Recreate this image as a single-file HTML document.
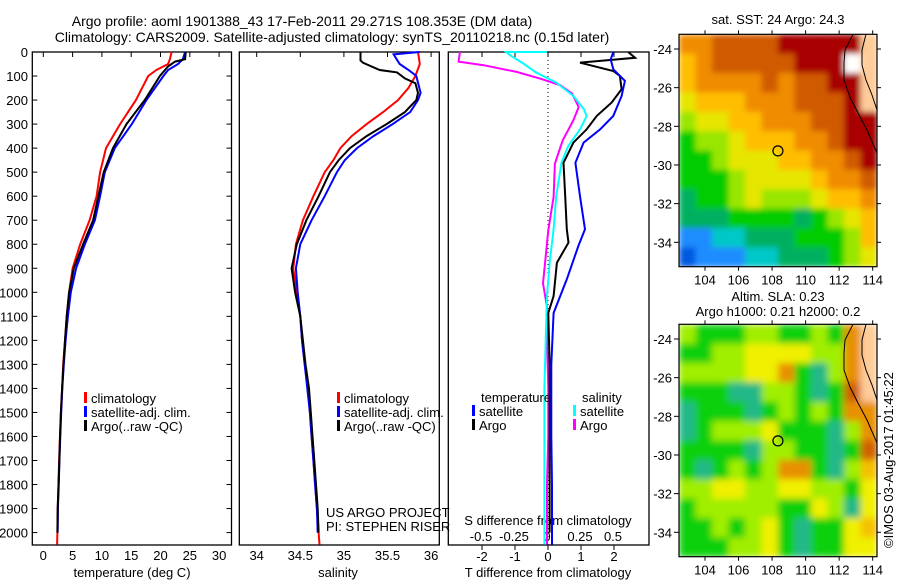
<!DOCTYPE html>
<html><head><meta charset="utf-8"><style>
html,body{margin:0;padding:0;background:#fff;}
svg{display:block;font-family:"Liberation Sans",sans-serif;}
</style></head><body>
<svg id="chart" width="900" height="580" viewBox="0 0 900 580" xmlns="http://www.w3.org/2000/svg">
<defs>
<clipPath id="clipTop"><rect x="679" y="34.3" width="198" height="232.4"/></clipPath>
<clipPath id="clipBot"><rect x="679" y="324.3" width="198" height="232.4"/></clipPath>
<filter id="soft" x="0" y="0" width="1" height="1"><feGaussianBlur stdDeviation="3" edgeMode="duplicate"/></filter>
<filter id="soft2" x="0" y="0" width="1" height="1"><feGaussianBlur stdDeviation="3.5" edgeMode="duplicate"/></filter>
</defs>
<text x="302" y="26" font-size="14" text-anchor="middle">Argo profile: aoml 1901388_43 17-Feb-2011 29.271S 108.353E (DM data)</text>
<text x="332" y="42" font-size="14" text-anchor="middle">Climatology: CARS2009. Satellite-adjusted climatology: synTS_20110218.nc (0.15d later)</text>
<g id="g"></g>
<text x="778" y="24" font-size="13" text-anchor="middle">sat. SST: 24 Argo: 24.3</text>
<text x="778" y="301" font-size="13" text-anchor="middle">Altim. SLA: 0.23</text>
<text x="778" y="316" font-size="13" text-anchor="middle">Argo h1000: 0.21 h2000: 0.2</text>
<text transform="translate(893,548) rotate(-90)" font-size="13">©IMOS 03-Aug-2017 01:45:22</text>
</svg>
<script>
// ---- data ----
const depthTicks = [0,100,200,300,400,500,600,700,800,900,1000,1100,1200,1300,1400,1500,1600,1700,1800,1900,2000];
const tTicks = [0,5,10,15,20,25,30];
const sTicks = [34,34.5,35,35.5,36];
const tdTicks = [-2,-1,0,1,2];
const sdTicks = [-0.5,-0.25,0,0.25,0.5];
const sdTickLabels = ["-0.5","-0.25","0","0.25","0.5"];

const tClimDepth = [0,30,50,75,100,200,300,400,500,600,700,800,900,1000,1100,1200,1300,1400,1500,1600,1700,1800,1900,2000,2050];
const tClim = [21.9,21.6,21.3,19.3,17.9,15.8,13.1,10.7,9.7,9.1,7.9,6.3,5.0,4.4,4.0,3.7,3.4,3.2,3.0,2.85,2.7,2.6,2.45,2.4,2.35];
const tSatDepth = [0,30,50,75,100,200,300,400,500,600,700,800,900,1000,1100,1200,1300,1400,1500,1600,1700,1800,1900,2000];
const tSat = [24.2,23.8,23.0,21.3,20.5,17.6,15.1,12.2,10.5,9.7,8.8,7.1,5.6,4.7,4.2,3.8,3.5,3.25,3.05,2.9,2.75,2.65,2.5,2.45];
const tArgoDepth = [0,30,40,60,100,200,300,400,500,600,700,800,900,1000,1100,1200,1300,1400,1500,1600,1700,1800,1900,2000];
const tArgo = [24.3,24.2,22.5,21.3,19.9,17.3,14.2,11.9,10.3,9.4,8.5,6.8,5.2,4.4,4.0,3.7,3.45,3.2,3.0,2.85,2.75,2.6,2.45,2.4];

const sClimDepth = [0,50,100,150,200,250,300,350,400,450,500,600,700,800,900,1000,1100,1200,1300,1400,1500,1600,1700,1800,1900,2000,2050];
const sClim = [35.85,35.87,35.82,35.74,35.62,35.45,35.26,35.09,34.96,34.88,34.78,34.65,34.53,34.45,34.42,34.46,34.50,34.52,34.55,34.59,34.61,34.63,34.65,34.67,34.69,34.71,34.72];
const sSatDepth = [0,10,50,80,100,170,200,250,300,350,400,450,500,600,700,800,900,1000,1100,1200,1300,1400,1500,1600,1700,1800,1900,2000];
const sSat = [35.87,35.57,35.64,35.76,35.83,35.88,35.85,35.76,35.56,35.34,35.15,35.01,34.92,34.78,34.63,34.50,34.45,34.47,34.50,34.52,34.55,34.58,34.61,34.63,34.65,34.67,34.69,34.70];
const sArgoDepth = [0,35,45,75,85,110,130,170,200,250,300,350,400,450,500,600,700,800,900,1000,1100,1200,1300,1400,1500,1600,1700,1800,1900,2000];
const sArgo = [35.19,35.19,35.22,35.41,35.61,35.70,35.82,35.85,35.83,35.70,35.49,35.26,35.07,34.94,34.84,34.71,34.57,34.46,34.40,34.44,34.50,34.53,34.56,34.60,34.62,34.64,34.66,34.68,34.70,34.71];

const sdArgoDepth = [0,40,55,83,111,138,173,229,284,367,464,603,741,880,963,1060,1200,1400,1600,1800,2000,2050];
const sdArgo = [-0.66,-0.67,-0.48,-0.23,-0.05,0.10,0.19,0.24,0.20,0.12,0.06,0.05,0.01,-0.015,-0.03,0,0.0,0.01,0.01,0.0,0.0,0.0];
const sdSatDepth = [0,0,17,44,86,127,183,239,267,322,392,461,600,738,877,1016,1200,1400,1600,1800,2000,2050];
const sdSat = [-0.0,-0.31,-0.27,-0.19,-0.08,0.07,0.20,0.28,0.30,0.25,0.16,0.11,0.07,0.05,0.02,0,-0.01,-0.02,-0.02,-0.02,-0.02,-0.02];
const tdArgoDepth = [0,24,37,44,51,79,100,155,210,266,322,377,461,600,738,793,877,1016,1086,1300,1600,1800,2000];
const tdArgo = [2.43,2.64,1.58,0.97,1.17,1.98,2.18,2.23,1.93,1.48,1.17,0.77,0.47,0.52,0.57,0.62,0.27,0.17,0.01,0.05,0.05,0.05,0.05];
const tdSatDepth = [0,31,72,120,183,266,322,377,461,600,738,807,946,1086,1300,1600,1800,2000,2050];
const tdSat = [1.98,1.9,1.98,2.33,2.23,1.98,1.58,1.08,0.83,0.97,1.12,0.92,0.57,0.17,0.1,0.1,0.12,0.12,0.12];

const lonTicks = [104,106,108,110,112,114];
const latTicks = [-24,-26,-28,-30,-32,-34];
const argoLon = 108.35, argoLat = -29.27;
const sstGrid = [
[8,8,9,9,9,9,10,10,10,10,10,11],
[7,8,9,9,9,9,9,10,10,10,12,11],
[7,8,8,8,8,9,8,9,9,10,10,11],
[6,7,7,7,8,8,8,9,9,9,10,11],
[5,6,6,7,7,8,8,8,9,9,10,10],
[4,5,5,6,7,7,7,8,8,9,10,10],
[4,4,5,6,6,6,7,7,8,8,9,10],
[4,4,4,5,6,6,6,6,7,8,8,9],
[3,4,4,5,6,5,5,5,6,7,7,8],
[3,3,3,4,4,4,4,3,4,5,6,7],
[1,1,2,2,3,3,3,4,4,4,5,7],
[0,1,1,1,2,2,3,3,3,4,5,6]];
const slaGrid = [
[5,4,4,4,5,5,4,4,5,4,8,11],
[4,4,5,5,6,6,6,6,5,5,8,11],
[5,5,5,5,6,6,8,4,3,5,8,11],
[4,4,4,3,3,5,5,4,3,4,9,11],
[3,4,4,4,3,4,5,4,5,4,8,8],
[3,4,5,5,5,6,4,4,4,3,5,8],
[4,4,4,4,3,5,5,4,4,3,4,9],
[4,3,4,5,4,5,8,8,4,3,5,7],
[5,5,6,6,5,5,6,6,5,5,4,6],
[4,5,5,5,5,5,4,4,6,5,3,6],
[4,4,5,4,5,6,4,3,4,4,6,7],
[4,4,4,5,5,6,4,3,4,4,6,6]];
const sstColors = ['#0058e0','#1e8cff','#00c8c8','#00b060','#00cc00','#99e600','#e6e600','#ffbe00','#f08c00','#d05a00','#a80000','#ffcc99','#ffffff'];
const slaColors = ['#0058e0','#1e8cff','#00c8c8','#20b888','#10d010','#a0ee00','#f0f000','#f5c000','#e89000','#d06000','#a80000','#ffcc99','#ffffff'];

// ---- helpers ----
const NS='http://www.w3.org/2000/svg';
const G=document.getElementById('g');
function mk(tag,attrs,parent){const e=document.createElementNS(NS,tag);for(const k in attrs)e.setAttribute(k,attrs[k]);(parent||G).appendChild(e);return e;}
const Y0=52,Y1=545;
function yD(d){return 52+d*0.2403;}
function xT(t){return 43.3+t*5.86;}
function xS(s){return 256.7+(s-34)*87.2;}
function xTd(t){return 548+t*33;}
function xSd(s){return 547+s*132;}
const LON0=102.45,LON1=114.25;
function xLon(l){return 679+(l-LON0)*16.77;}
function yLat(l,top){return top+49-34.3+(-24-l)*19.33;}

function line(xs,ds,fx,color,name,w){
  const pts=xs.map((v,i)=>fx(v).toFixed(1)+','+yD(ds[i]).toFixed(1)).join(' ');
  const p=mk('polyline',{points:pts,fill:'none',stroke:color,'stroke-width':w||2,'stroke-linejoin':'miter'});
  
  
}
function txt(x,y,s,anchor,size,name){
  const t=mk('text',{x:x,y:y,'font-size':size||13,'text-anchor':anchor||'start'});
  t.textContent=s;
  
  
  return t;
}
function frame(x0,x1,name){
  const r=mk('rect',{x:x0,y:Y0,width:x1-x0,height:Y1-Y0,fill:'none',stroke:'#000','stroke-width':1.3});
  
  
}

frame(32.3,231.5,'temperature-panel-frame');
frame(239.3,439.3,'salinity-panel-frame');
frame(448.3,649,'difference-panel-frame');

depthTicks.forEach(d=>{
  const y=yD(d);
  mk('line',{x1:32.3,x2:37.3,y1:y,y2:y,stroke:'#000'});
  mk('line',{x1:226.5,x2:231.5,y1:y,y2:y,stroke:'#000'});
  txt(28,y+5,String(d),'end',13,'depth-tick-label');
});
tTicks.forEach(t=>{
  const x=xT(t);
  mk('line',{x1:x,x2:x,y1:Y0,y2:Y0+5,stroke:'#000'});
  txt(x,560,String(t),'middle',13,'temperature-tick-label');
});
txt(132,577,'temperature (deg C)','middle',13,'temperature-axis-title');
sTicks.forEach(s=>{
  const x=xS(s);
  mk('line',{x1:x,x2:x,y1:Y0,y2:Y0+5,stroke:'#000'});
  txt(x,560,String(s),'middle',13,'salinity-tick-label');
});
txt(338,577,'salinity','middle',13,'salinity-axis-title');
tdTicks.forEach(t=>{
  const x=xTd(t);
  mk('line',{x1:x,x2:x,y1:Y1,y2:Y1+5,stroke:'#000'});
  mk('line',{x1:x,x2:x,y1:Y0,y2:Y0+5,stroke:'#000'});
  txt(x,561,String(t),'middle',13,'t-diff-tick-label');
});
txt(548,577,'T difference from climatology','middle',13,'t-diff-axis-title');
sdTicks.forEach((s,i)=>{
  txt(xSd(s),541,sdTickLabels[i],'middle',13,'s-diff-tick-label');
});
txt(548,525,'S difference from climatology','middle',13,'s-diff-axis-title');
mk('line',{x1:548,x2:548,y1:Y0,y2:Y1,stroke:'#000','stroke-dasharray':'1,3'});

line(tClim,tClimDepth,xT,'#ff0000','temperature-climatology-line');
line(tSat,tSatDepth,xT,'#0000ff','temperature-satellite-line');
line(tArgo,tArgoDepth,xT,'#000000','temperature-argo-line');
line(sClim,sClimDepth,xS,'#ff0000','salinity-climatology-line');
line(sSat,sSatDepth,xS,'#0000ff','salinity-satellite-line');
line(sArgo,sArgoDepth,xS,'#000000','salinity-argo-line');
line(sdArgo,sdArgoDepth,xSd,'#ff00ff','salinity-diff-argo-line');
line(sdSat,sdSatDepth,xSd,'#00ffff','salinity-diff-satellite-line');
line(tdArgo,tdArgoDepth,xTd,'#000000','temperature-diff-argo-line');
line(tdSat,tdSatDepth,xTd,'#0000ff','temperature-diff-satellite-line');

function legend(x,y,color,label,name){
  const b=mk('rect',{x:x,y:y-11,width:3,height:11,fill:color});
  
  
  txt(x+7,y,label,'start',13,name);
}
legend(84,403,'#ff0000','climatology','legend-t-climatology');
legend(84,417,'#0000ff','satellite-adj. clim.','legend-t-satellite');
legend(84,431,'#000000','Argo(..raw -QC)','legend-t-argo');
legend(337,403,'#ff0000','climatology','legend-s-climatology');
legend(337,417,'#0000ff','satellite-adj. clim.','legend-s-satellite');
legend(337,431,'#000000','Argo(..raw -QC)','legend-s-argo');
txt(481,402,'temperature','start',13,'legend-temperature-heading');
txt(582,402,'salinity','start',13,'legend-salinity-heading');
legend(472,416,'#0000ff','satellite','legend-td-satellite');
legend(472,430,'#000000','Argo','legend-td-argo');
legend(573,416,'#00ffff','satellite','legend-sd-satellite');
legend(573,430,'#ff00ff','Argo','legend-sd-argo');
txt(326,517,'US ARGO PROJECT','start',13,'project-credit');
txt(326,531,'PI: STEPHEN RISER','start',13,'pi-credit');

function drawMap(grid,colors,top,clip,filt,name){
  const g=mk('g',{'clip-path':'url(#'+clip+')'});
  
  
  const inner=mk('g',{filter:'url(#'+filt+')'},g);
  const rows=grid.length, cols=grid[0].length;
  const cw=198/cols, ch=232.4/rows;
  grid.forEach((row,r)=>row.forEach((v,c)=>{
    const cell=mk('rect',{x:(679+c*cw).toFixed(2),y:(top+r*ch).toFixed(2),width:(cw+0.6).toFixed(2),height:(ch+0.6).toFixed(2),fill:colors[v]},inner);
    
    
  }));
  const off=top-34.3;
  const coast=[[853,34.3],[845,50],[844,63],[844,80],[850,97],[858,113],[867,130],[877,153]];
  const cl=mk('polyline',{points:coast.map(p=>p[0]+','+(p[1]+off)).join(' '),fill:'none',stroke:'#000','stroke-width':1},g);
  
  
  const coast2=[[866,34.3],[862,50],[862,65],[866,80],[872,95],[877,110]];
  const c2=mk('polyline',{points:coast2.map(p=>p[0]+','+(p[1]+off)).join(' '),fill:'none',stroke:'#000','stroke-width':1},g);
  
  
  const fr=mk('rect',{x:679,y:top,width:198,height:232.4,fill:'none',stroke:'#000','stroke-width':1.2});
  
  
  lonTicks.forEach(l=>{
    const x=xLon(l);
    mk('line',{x1:x,x2:x,y1:top,y2:top-4,stroke:'#000'});
    mk('line',{x1:x,x2:x,y1:top+232.4,y2:top+236.4,stroke:'#000'});
    txt(x,top+250,String(l),'middle',13,'longitude-tick-label');
  });
  latTicks.forEach(l=>{
    const y=yLat(l,top);
    mk('line',{x1:679,x2:674,y1:y,y2:y,stroke:'#000'});
    mk('line',{x1:877,x2:881,y1:y,y2:y,stroke:'#000'});
    txt(672,y+5,String(l),'end',13,'latitude-tick-label');
  });
  const m=mk('circle',{cx:xLon(argoLon),cy:yLat(argoLat,top),r:5,fill:'none',stroke:'#000','stroke-width':1.2});
  
  
}
drawMap(sstGrid,sstColors,34.3,'clipTop','soft','sst-map');
drawMap(slaGrid,slaColors,324.3,'clipBot','soft2','sla-map');
</script>
</body></html>
